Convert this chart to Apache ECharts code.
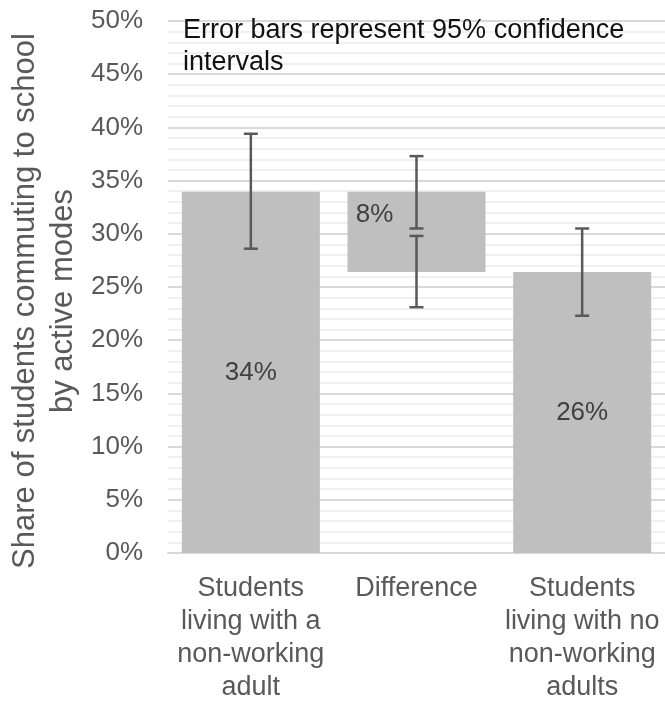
<!DOCTYPE html>
<html>
<head>
<meta charset="utf-8">
<script src="https://cdn.jsdelivr.net/npm/echarts@6/dist/echarts.min.js"></script>
<style>html,body{margin:0;padding:0;background:#fff}#c{width:665px;height:704px}</style>
</head>
<body>
<div id="c"></div>
<script>
// ---- data ----
const categories = ['Students\nliving with a\nnon-working\nadult', 'Difference', 'Students\nliving with no\nnon-working\nadults'];
const baseValues = [0, 26.4, 0];          // invisible base (waterfall)
const barValues = [33.95, 7.55, 26.4];    // visible bar heights
const barLabels = ['34%', '8%', '26%'];
// error bars: [category index, low, high]
const errorBars = [
  [0, 28.6, 39.4],
  [1, 30.5, 37.3],
  [1, 23.1, 29.8],
  [2, 22.3, 30.5]
];
const yTicks = { min: 0, max: 50, interval: 5 };
const axisTitle = 'Share of students commuting to school\nby active modes';
const noteText = 'Error bars represent 95% confidence\nintervals';

const FONT = '"Liberation Sans", Arial, Helvetica, sans-serif';
const chart = echarts.init(document.getElementById('c'), null, { renderer: 'canvas' });

chart.setOption({
  animation: false,
  backgroundColor: '#ffffff',
  textStyle: { fontFamily: FONT },
  title: {
    text: noteText,
    left: 183, top: 15, padding: 0,
    textStyle: { fontFamily: FONT, fontSize: 27, fontWeight: 'normal', color: '#111111', lineHeight: 32 }
  },
  graphic: [{
    type: 'text',
    x: 44, y: 301,
    rotation: Math.PI / 2,
    style: {
      text: axisTitle,
      fontFamily: FONT, fontSize: 31, fill: '#595959',
      align: 'center', verticalAlign: 'middle', lineHeight: 38
    }
  }],
  grid: { left: 168, width: 498, top: 21, bottom: 144, containLabel: false },
  xAxis: {
    type: 'category',
    data: categories,
    axisLine: { show: true, lineStyle: { color: '#d9d9d9', width: 2 } },
    axisTick: { show: false },
    axisLabel: { color: '#595959', fontSize: 27, lineHeight: 33, margin: 19, fontFamily: FONT, interval: 0 }
  },
  yAxis: {
    type: 'value',
    min: yTicks.min, max: yTicks.max, interval: yTicks.interval,
    axisLine: { show: false },
    axisTick: { show: false },
    axisLabel: { formatter: '{value}%', color: '#595959', fontSize: 26, margin: 25, fontFamily: FONT },
    splitLine: { show: true, lineStyle: { color: '#d9d9d9', width: 2 } },
    minorTick: { show: false, splitNumber: 5 },
    minorSplitLine: { show: true, lineStyle: { color: '#f0f0f0', width: 2 } }
  },
  series: [
    {
      type: 'bar', stack: 'w', barWidth: 138,
      data: baseValues,
      itemStyle: { color: 'transparent' },
      silent: true
    },
    {
      type: 'bar', stack: 'w', barWidth: 138,
      data: barValues.map((v, i) => ({
        value: v,
        label: i === 1 ? { offset: [-42, -17] } : {}
      })),
      itemStyle: { color: '#bfbfbf' },
      label: {
        show: true, position: 'inside',
        formatter: p => barLabels[p.dataIndex],
        color: '#404040', fontSize: 26, fontFamily: FONT
      }
    },
    {
      type: 'custom',
      data: errorBars,
      z: 10,
      renderItem: function (params, api) {
        const lo = api.coord([api.value(0), api.value(1)]);
        const hi = api.coord([api.value(0), api.value(2)]);
        const hw = 7;
        const st = { stroke: '#595959', lineWidth: 2.5 };
        return {
          type: 'group',
          children: [
            { type: 'line', shape: { x1: lo[0], y1: lo[1], x2: hi[0], y2: hi[1] }, style: st },
            { type: 'line', shape: { x1: lo[0] - hw, y1: lo[1], x2: lo[0] + hw, y2: lo[1] }, style: st },
            { type: 'line', shape: { x1: hi[0] - hw, y1: hi[1], x2: hi[0] + hw, y2: hi[1] }, style: st }
          ]
        };
      },
      encode: { x: 0, y: [1, 2] }
    }
  ]
});
</script>
</body>
</html>
